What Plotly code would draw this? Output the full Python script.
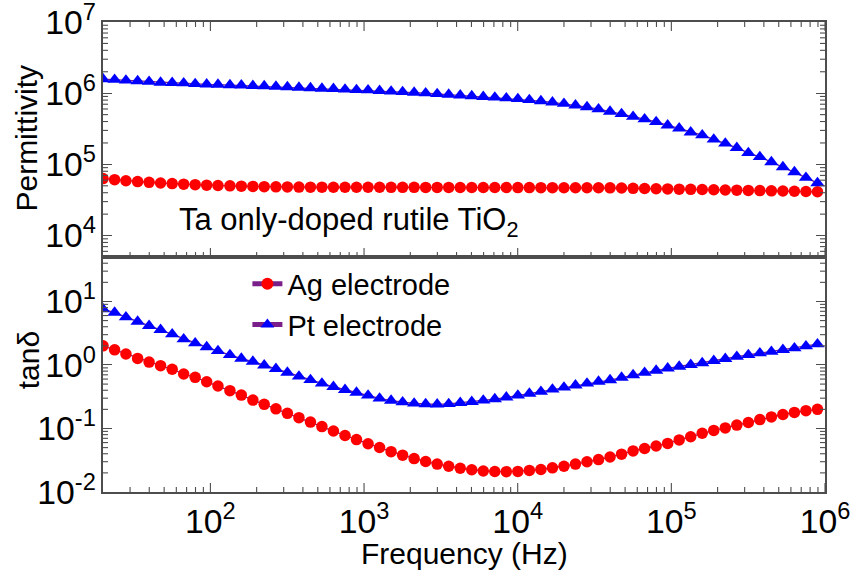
import math
import plotly.graph_objects as go

# ---- data ----
freq = [20, 23.8, 28.2, 33.6, 39.9, 47.4, 56.4, 67.0, 79.6, 94.6,
        112, 134, 159, 189, 224, 267, 317, 377, 448, 532,
        632, 752, 893, 1062, 1262, 1500, 1782, 2118, 2518, 2992,
        3556, 4227, 5023, 5970, 7096, 8433, 10023, 11912, 14158, 16827,
        20000, 23768, 28250, 33574, 39900, 47424, 56364, 66988, 79616, 94624,
        112460, 133660, 158850, 188800, 224390, 266680, 316950, 376700, 447710, 532110,
        632410, 751620, 893310]

eps_ag = [6.31e4, 6.10e4, 5.89e4, 5.73e4, 5.60e4, 5.47e4, 5.37e4, 5.27e4, 5.19e4, 5.11e4,
          5.05e4, 4.99e4, 4.94e4, 4.90e4, 4.86e4, 4.84e4, 4.82e4, 4.80e4, 4.79e4, 4.79e4,
          4.78e4, 4.78e4, 4.78e4, 4.77e4, 4.77e4, 4.76e4, 4.76e4, 4.76e4, 4.75e4, 4.75e4,
          4.75e4, 4.74e4, 4.74e4, 4.74e4, 4.73e4, 4.73e4, 4.72e4, 4.72e4, 4.71e4, 4.71e4,
          4.70e4, 4.70e4, 4.69e4, 4.69e4, 4.68e4, 4.65e4, 4.61e4, 4.58e4, 4.55e4, 4.52e4,
          4.49e4, 4.46e4, 4.43e4, 4.40e4, 4.37e4, 4.34e4, 4.31e4, 4.28e4, 4.25e4, 4.22e4,
          4.19e4, 4.16e4, 4.12e4]

eps_pt = [1.58e6, 1.55e6, 1.51e6, 1.48e6, 1.45e6, 1.41e6, 1.40e6, 1.38e6, 1.35e6, 1.33e6,
          1.32e6, 1.30e6, 1.29e6, 1.27e6, 1.26e6, 1.24e6, 1.22e6, 1.20e6, 1.18e6, 1.16e6,
          1.15e6, 1.13e6, 1.11e6, 1.10e6, 1.08e6, 1.06e6, 1.04e6, 1.02e6, 1.00e6, 9.77e5,
          9.55e5, 9.33e5, 9.12e5, 8.91e5, 8.71e5, 8.51e5, 8.32e5, 8.04e5, 7.76e5, 7.45e5,
          7.11e5, 6.76e5, 6.38e5, 5.96e5, 5.51e5, 5.12e5, 4.68e5, 4.31e5, 3.94e5, 3.54e5,
          3.21e5, 2.82e5, 2.57e5, 2.24e5, 1.97e5, 1.71e5, 1.45e5, 1.27e5, 1.08e5, 9.18e4,
          7.80e4, 6.50e4, 5.46e4]

tan_ag = [2.00, 1.73, 1.49, 1.27, 1.11, 0.975, 0.855, 0.721, 0.638, 0.545,
          0.466, 0.394, 0.336, 0.280, 0.240, 0.204, 0.173, 0.148, 0.126, 0.107,
          0.0912, 0.0776, 0.0668, 0.0575, 0.0501, 0.0432, 0.0380, 0.0336, 0.0302, 0.0275,
          0.0254, 0.0237, 0.0224, 0.0214, 0.0210, 0.0209, 0.0211, 0.0219, 0.0226, 0.0240,
          0.0254, 0.0275, 0.0299, 0.0324, 0.0355, 0.0394, 0.0444, 0.0484, 0.0531, 0.0582,
          0.0661, 0.0741, 0.0841, 0.0933, 0.102, 0.113, 0.124, 0.138, 0.152, 0.166,
          0.179, 0.191, 0.200]

tan_pt = [7.59, 6.70, 5.66, 4.83, 4.13, 3.57, 3.05, 2.55, 2.20, 1.91,
          1.66, 1.44, 1.26, 1.13, 0.989, 0.871, 0.759, 0.661, 0.582, 0.513,
          0.454, 0.407, 0.367, 0.331, 0.297, 0.275, 0.260, 0.248, 0.243, 0.240,
          0.244, 0.254, 0.263, 0.277, 0.290, 0.309, 0.331, 0.355, 0.380, 0.412,
          0.442, 0.479, 0.513, 0.547, 0.579, 0.634, 0.695, 0.755, 0.817, 0.885,
          0.944, 1.007, 1.072, 1.161, 1.253, 1.349, 1.439, 1.531, 1.622, 1.730,
          1.837, 1.972, 2.123]

series_names = ["Ag electrode", "Pt electrode"]
annotation_text = "Ta only-doped rutile TiO<sub>2</sub>"
x_title = "Frequency (Hz)"
y_titles = ["Permittivity", "tan\u03b4"]

# ---- styling ----
FONT = "Liberation Sans, Arial, sans-serif"
AX = "#4d4d4d"
LINE = "#7a1f8a"
MAJ, MIN = 9, 5

xr = [math.log10(20), 6]
y1r = [math.log10(5000), 7]
y2r = [-2, 1.7]


def log_ticks(rng, minor_only=False):
    """(value, is_major) for every k x 10^n (k = 1..9) inside a log axis range."""
    out = []
    for e in range(math.floor(rng[0]), math.ceil(rng[1]) + 1):
        for k in range(1, 10):
            v = k * 10.0 ** e
            p = math.log10(v)
            if k == 1:
                if not minor_only and rng[0] - 1e-9 <= p <= rng[1] + 1e-9:
                    out.append((v, True))
            elif rng[0] + 1e-6 < p < rng[1] - 1e-6:
                out.append((v, False))
    return out


fig = go.Figure()

def add(x, y, name, color, symbol, size, xa, ya, show):
    fig.add_trace(go.Scatter(
        x=x, y=y, name=name, mode="lines+markers",
        line=dict(color=LINE, width=1.3),
        marker=dict(color=color, symbol=symbol, size=size, line=dict(width=0)),
        xaxis=xa, yaxis=ya, showlegend=show, legendgroup=name))

add(freq, eps_ag, series_names[0], "#ff0000", "circle", 11.5, "x", "y", False)
add(freq, eps_pt, series_names[1], "#0000ff", "triangle-up", 12.5, "x", "y", False)
add(freq, tan_ag, series_names[0], "#ff0000", "circle", 11.5, "x2", "y2", True)
add(freq, tan_pt, series_names[1], "#0000ff", "triangle-up", 12.5, "x2", "y2", True)

# tick marks drawn as pixel-sized shapes placed at the log-axis tick values
shapes = []
tick_line = dict(color=AX, width=1.1)
for xref, yref, sides in (("x", "y domain", (0, 1)), ("x2", "y2 domain", (0,))):
    for v, major in log_ticks(xr):
        ln = MAJ if major else MIN
        for s in sides:
            shapes.append(dict(type="line", xref=xref, yref=yref, x0=v, x1=v,
                               ysizemode="pixel", yanchor=s, y0=0,
                               y1=ln if s == 0 else -ln, line=tick_line,
                               layer="above"))
for xref, yref, rng in (("x domain", "y", y1r), ("x2 domain", "y2", y2r)):
    for v, major in log_ticks(rng, minor_only=True):
        for s in (0, 1):
            shapes.append(dict(type="line", xref=xref, yref=yref, y0=v, y1=v,
                               xsizemode="pixel", xanchor=s, x0=0,
                               x1=MIN if s == 0 else -MIN, line=tick_line,
                               layer="above"))

common = dict(type="log", showgrid=False, zeroline=False, showline=True,
              linecolor=AX, linewidth=1.5, dtick=1,
              exponentformat="power", automargin=False,
              ticklabeloverflow="allow",
              tickfont=dict(family=FONT, size=27, color="black"))
yticks = dict(ticks="inside", ticklen=MAJ, tickwidth=1.2, tickcolor=AX,
              mirror="ticks")

fig.update_layout(
    width=851, height=577,
    margin=dict(l=103, r=26, t=22, b=85),
    paper_bgcolor="white", plot_bgcolor="white",
    font=dict(family=FONT, size=28, color="black"),
    xaxis=dict(common, range=xr, domain=[0, 1], anchor="y", mirror=True,
               ticks="", showticklabels=False),
    yaxis=dict(common, **yticks, range=y1r, domain=[0.5, 1], anchor="x"),
    xaxis2=dict(common, range=xr, domain=[0, 1], anchor="y2", mirror=True,
                ticks=""),
    yaxis2=dict(common, **yticks, range=y2r, domain=[0, 0.5], anchor="x2",
                labelalias={"1": "10<sup>0</sup>", "10": "10<sup>1</sup>",
                            "10<sup>\u22121</sup>": "10<sup>-1</sup>",
                            "10<sup>\u22122</sup>": "10<sup>-2</sup>"}),
    shapes=shapes,
    legend=dict(x=0.2, y=0.497, xanchor="left", yanchor="top",
                bgcolor="rgba(0,0,0,0)", font=dict(family=FONT, size=29),
                tracegroupgap=0, itemsizing="constant"),
    annotations=[
        dict(text=annotation_text, xref="paper", yref="paper",
             x=0.102, y=0.574, xanchor="left", yanchor="middle",
             showarrow=False, font=dict(family=FONT, size=31)),
        dict(text=x_title, xref="paper", yref="paper", x=0.5, y=-0.13,
             xanchor="center", yanchor="middle", showarrow=False,
             font=dict(family=FONT, size=30)),
        dict(text=y_titles[0], xref="paper", yref="paper", x=-0.106, y=0.753,
             xanchor="center", yanchor="middle", textangle=-90, showarrow=False,
             font=dict(family=FONT, size=30)),
        dict(text=y_titles[1], xref="paper", yref="paper", x=-0.102, y=0.281,
             xanchor="center", yanchor="middle", textangle=-90, showarrow=False,
             font=dict(family=FONT, size=30)),
    ],
)

fig.write_html("out.html", config={"displayModeBar": False},
               post_script="document.body.style.margin='0';")
